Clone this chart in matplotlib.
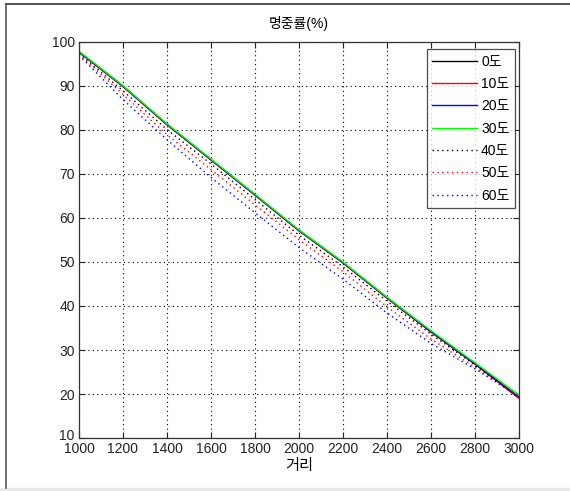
import matplotlib
matplotlib.use("Agg")
import matplotlib.pyplot as plt
import matplotlib.transforms as mtransforms
from matplotlib.lines import Line2D

plt.rcParams['font.family'] = ['Liberation Sans', 'Noto Sans CJK KR', 'DejaVu Sans']

distance = [1000, 1200, 1400, 1600, 1800, 2000, 2200, 2400, 2600, 2800, 3000]
labels = ['0도', '10도', '20도', '30도', '40도', '50도', '60도']
hit_0 = [97.7, 89.9, 81.2, 73.2, 65.2, 57.1, 49.8, 41.8, 34.1, 26.8, 19.1]
hit_10 = [97.7, 89.9, 81.2, 73.2, 65.2, 57.1, 49.8, 41.8, 34.1, 26.8, 19.0]
hit_20 = [97.8, 90.0, 81.3, 73.3, 65.3, 57.2, 49.9, 41.9, 34.2, 26.9, 19.3]
hit_30 = [97.9, 90.1, 81.4, 73.4, 65.4, 57.3, 50.0, 42.0, 34.4, 27.1, 19.8]
hit_40 = [97.4, 88.9, 80.1, 72.3, 64.2, 56.1, 48.9, 41.1, 33.6, 26.6, 19.2]
hit_50 = [97.2, 88.1, 78.9, 71.0, 63.0, 55.1, 47.8, 39.8, 32.5, 26.1, 19.3]
hit_60 = [97.0, 86.9, 77.8, 69.2, 61.2, 53.3, 46.1, 38.4, 31.5, 25.7, 19.4]
xticks = [1000, 1200, 1400, 1600, 1800, 2000, 2200, 2400, 2600, 2800, 3000]
yticks = [10, 20, 30, 40, 50, 60, 70, 80, 90, 100]

series = [hit_0, hit_10, hit_20, hit_30, hit_40, hit_50, hit_60]
colors = ['#000000', '#FF0000', '#0000FF', '#00FF00', '#000000', '#FF0000', '#0000FF']
styles = ['-', '-', '-', '-', (0, (1, 2.5)), (0, (1, 2.5)), (0, (1, 2.5))]

W, H = 570, 491
fig = plt.figure(figsize=(W / 100, H / 100), dpi=100)
fig.patch.set_facecolor('white')

# outer frame (top and left lines, light gray band at bottom)
fig.add_artist(Line2D([6 / W, 1.0], [1 - 4 / H, 1 - 4 / H], color='#333333', lw=1.2))
fig.add_artist(Line2D([6 / W, 6 / W], [1 - 4 / H, 1 - 488 / H], color='#555555', lw=1.2))
fig.add_artist(plt.Rectangle((0, 0), 1, 3 / H, transform=fig.transFigure,
                             color='#e8e8e8', zorder=0))

ax = fig.add_axes([79 / W, 53 / H, 440 / W, 396 / H])
for y, c, ls, lab in zip(series, colors, styles, labels):
    ax.plot(distance, y, color=c, linestyle=ls, lw=1.0, label=lab)

ax.set_xlim(1000, 3000)
ax.set_ylim(10, 100)
ax.set_xticks(xticks)
ax.set_yticks(yticks)
ax.grid(True, color='black', linestyle=(0, (1, 3)), lw=0.8)
ax.tick_params(direction='in', length=4, width=0.8, top=True, right=True,
               labelsize=10, colors='#222222', pad=3)
for s in ax.spines.values():
    s.set_color('#333333')
    s.set_linewidth(0.9)

# lift the lowest y label slightly so it clears the first x label
fig.canvas.draw()
ylabs = ax.get_yticklabels()
ylabs[0].set_transform(ylabs[0].get_transform() +
                       mtransforms.ScaledTranslation(0, 4 / 100, fig.dpi_scale_trans))

ax.set_title('명중률(%)', fontsize=10, pad=10)
ax.set_xlabel('거리', fontsize=11, labelpad=2)

leg = ax.legend(loc='upper right', bbox_to_anchor=(0.991, 0.982), borderaxespad=0,
                fontsize=10, handlelength=3.2, handletextpad=0.3, labelspacing=0.6,
                fancybox=False, frameon=True, borderpad=0.4)
leg.get_frame().set_edgecolor('#222222')
leg.get_frame().set_linewidth(0.9)

fig.savefig('out.png', dpi=100)
